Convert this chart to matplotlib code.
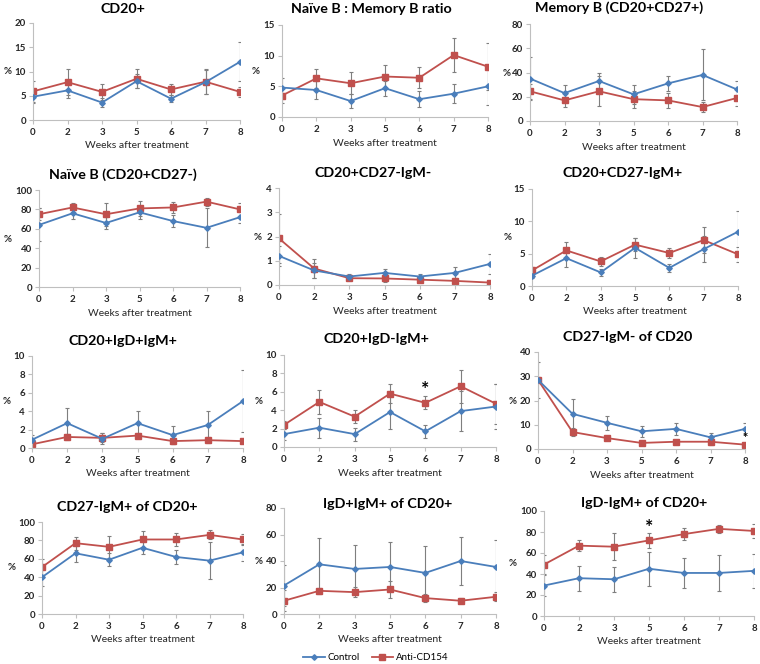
import matplotlib
matplotlib.use("Agg")
import matplotlib.pyplot as plt
from matplotlib.lines import Line2D

plt.rcParams['font.family'] = ['Lato', 'DejaVu Sans']

weeks = ["0", "2", "3", "5", "6", "7", "8"]

# Panel data: control mean/err, anti-CD154 mean/err
cd20_ctrl = [4.8, 6.1, 3.6, 8.0, 4.4, 7.8, 12.0]
cd20_ctrl_err = [1.2, 1.5, 1.0, 1.5, 0.7, 2.5, 4.0]
cd20_anti = [5.9, 7.8, 5.8, 8.5, 6.3, 7.9, 5.8]
cd20_anti_err = [2.2, 2.7, 1.6, 2.0, 1.1, 2.6, 1.1]

ratio_ctrl = [4.8, 4.4, 2.6, 4.7, 2.9, 3.8, 5.0]
ratio_ctrl_err = [1.5, 1.4, 1.1, 1.2, 1.3, 1.5, 3.0]
ratio_anti = [3.5, 6.3, 5.5, 6.6, 6.4, 10.1, 8.2]
ratio_anti_err = [1.2, 1.5, 1.8, 1.9, 1.7, 2.7, 3.8]

mem_ctrl = [35, 23, 33, 22, 31, 38, 26]
mem_ctrl_err = [18, 7, 7, 8, 6.5, 21, 7]
mem_anti = [24.5, 17, 24.5, 18, 17, 11.5, 19]
mem_anti_err = [6, 5.5, 12.5, 7, 6, 4, 7]

naive_ctrl = [64, 76, 66, 77, 68, 61, 72]
naive_ctrl_err = [17, 6, 6, 7, 6, 20, 6]
naive_anti = [75, 82, 75, 81, 82, 88, 80]
naive_anti_err = [6, 5, 12, 8, 6, 4, 7]

igmneg_ctrl = [1.2, 0.6, 0.35, 0.5, 0.35, 0.5, 0.87]
igmneg_ctrl_err = [0.4, 0.3, 0.1, 0.15, 0.1, 0.25, 0.4]
igmneg_anti = [1.92, 0.68, 0.28, 0.27, 0.22, 0.17, 0.1]
igmneg_anti_err = [1.0, 0.4, 0.08, 0.15, 0.1, 0.1, 0.05]

igmpos_ctrl = [1.6, 4.3, 2.1, 5.9, 2.8, 5.7, 8.4]
igmpos_ctrl_err = [0.4, 1.3, 0.5, 1.5, 0.6, 2.0, 3.2]
igmpos_anti = [2.4, 5.5, 3.8, 6.4, 5.1, 7.1, 4.9]
igmpos_anti_err = [0.5, 1.3, 0.7, 1.0, 0.8, 2.0, 1.2]

igdpos_ctrl = [0.9, 2.7, 1.0, 2.7, 1.4, 2.5, 5.1]
igdpos_ctrl_err = [0.5, 1.7, 0.6, 1.3, 1.0, 1.5, 3.4]
igdpos_anti = [0.4, 1.2, 1.1, 1.35, 0.75, 0.85, 0.75]
igdpos_anti_err = [0.2, 0.3, 0.5, 0.3, 0.3, 0.3, 0.1]

igdneg_ctrl = [1.4, 2.1, 1.4, 3.8, 1.7, 3.9, 4.4]
igdneg_ctrl_err = [0.6, 1.1, 0.7, 1.8, 0.7, 2.2, 2.4]
igdneg_anti = [2.4, 4.9, 3.3, 5.8, 4.8, 6.6, 4.7]
igdneg_anti_err = [0.4, 1.3, 0.7, 1.0, 0.7, 1.8, 2.2]

dn_ctrl = [28.5, 14.5, 10.8, 7.3, 8.3, 4.8, 8.3]
dn_ctrl_err = [7.5, 6.3, 3.0, 2.2, 2.5, 2.0, 2.3]
dn_anti = [28.5, 7.0, 4.5, 2.5, 3.0, 3.0, 1.8]
dn_anti_err = [1.0, 1.5, 0.5, 0.5, 0.8, 1.2, 0.5]

cd27igm_ctrl = [40, 66, 59, 72, 62, 58, 67]
cd27igm_ctrl_err = [10, 9, 7, 7, 8, 20, 9]
cd27igm_anti = [51, 77, 73, 81, 81, 86, 81]
cd27igm_anti_err = [9, 7, 12, 9, 7, 5, 6]

igdigm_ctrl = [21.5, 37.5, 34, 35.5, 31, 40, 35.5]
igdigm_ctrl_err = [15.5, 19.5, 18, 18.5, 20, 18, 20.5]
igdigm_anti = [10, 17.5, 16.5, 18.5, 12, 10, 13]
igdigm_anti_err = [8, 2.5, 4, 6.5, 3, 2, 3.5]

igdnigm_ctrl = [29, 36, 35, 45, 41, 41, 43]
igdnigm_ctrl_err = [10, 12, 12, 16, 14, 17, 16]
igdnigm_anti = [49, 67, 66, 72, 78, 83, 81]
igdnigm_anti_err = [9, 5, 13, 7, 6, 4, 7]

titles = ["CD20+", "Naïve B : Memory B ratio", "Memory B (CD20+CD27+)",
          "Naïve B (CD20+CD27-)", "CD20+CD27-IgM-", "CD20+CD27-IgM+",
          "CD20+IgD+IgM+", "CD20+IgD-IgM+", "CD27-IgM- of CD20",
          "CD27-IgM+ of CD20+", "IgD+IgM+ of CD20+", "IgD-IgM+ of CD20+"]
ymax = [20, 15, 80, 100, 4, 15, 10, 10, 40, 100, 80, 100]
ystep = [5, 5, 20, 20, 1, 5, 2, 2, 10, 20, 20, 20]

series = [
    (cd20_ctrl, cd20_ctrl_err, cd20_anti, cd20_anti_err),
    (ratio_ctrl, ratio_ctrl_err, ratio_anti, ratio_anti_err),
    (mem_ctrl, mem_ctrl_err, mem_anti, mem_anti_err),
    (naive_ctrl, naive_ctrl_err, naive_anti, naive_anti_err),
    (igmneg_ctrl, igmneg_ctrl_err, igmneg_anti, igmneg_anti_err),
    (igmpos_ctrl, igmpos_ctrl_err, igmpos_anti, igmpos_anti_err),
    (igdpos_ctrl, igdpos_ctrl_err, igdpos_anti, igdpos_anti_err),
    (igdneg_ctrl, igdneg_ctrl_err, igdneg_anti, igdneg_anti_err),
    (dn_ctrl, dn_ctrl_err, dn_anti, dn_anti_err),
    (cd27igm_ctrl, cd27igm_ctrl_err, cd27igm_anti, cd27igm_anti_err),
    (igdigm_ctrl, igdigm_ctrl_err, igdigm_anti, igdigm_anti_err),
    (igdnigm_ctrl, igdnigm_ctrl_err, igdnigm_anti, igdnigm_anti_err),
]

# significance markers: (panel index, week index, y value, size)
stars = [(7, 4, 6.3, 14), (8, 6, 4.6, 9), (11, 3, 84, 14)]

W, H = 760, 664
# axes boxes in pixels: left, right, top, bottom
boxes = [(33, 240, 23, 120), (282, 488, 25, 117), (530, 737, 24, 121),
         (39, 240, 190, 287), (279, 490, 188, 285), (532, 738, 189, 286),
         (32, 243, 356, 448), (284, 496, 355, 447), (538, 745, 352, 449),
         (42, 243, 522, 614), (284, 496, 508, 614), (544, 754, 511, 616)]
title_pos = [(123, 9), (371, 9), (619, 8), (123, 175), (373, 173), (623, 173),
             (123, 341), (376, 339), (628, 337), (127, 507), (388, 504), (644, 503)]
ylab_pos = [(8, 72), (256, 72), (507, 73), (8, 239), (258, 237), (508, 238),
            (7, 402), (259, 402), (513, 401), (12, 568), (259, 561), (513, 563)]

BLUE = '#4A7EBB'
RED = '#C0504D'
GRAY = '#7F7F7F'
SPINE = '#BFBFBF'
TXT = '#262626'

fig = plt.figure(figsize=(W / 100, H / 100), dpi=100)
x = list(range(len(weeks)))

for i in range(12):
    l, r, t, b = boxes[i]
    ax = fig.add_axes([l / W, 1 - b / H, (r - l) / W, (b - t) / H])
    c, ce, a, ae = series[i]
    ax.errorbar(x, c, yerr=ce, fmt='none', ecolor=GRAY, elinewidth=0.8,
                capsize=1.5, capthick=0.8, zorder=1)
    ax.errorbar(x, a, yerr=ae, fmt='none', ecolor=GRAY, elinewidth=0.8,
                capsize=1.5, capthick=0.8, zorder=1)
    ax.plot(x, c, color=BLUE, lw=1.3, marker='D', ms=2.8, zorder=3)
    ax.plot(x, a, color=RED, lw=1.3, marker='s', ms=4.5, zorder=2)
    ax.set_xlim(0, 6)
    ax.set_ylim(0, ymax[i])
    ax.set_yticks([k * ystep[i] for k in range(int(round(ymax[i] / ystep[i])) + 1)])
    ax.set_xticks(x)
    ax.set_xticklabels(weeks)
    for s in ['top', 'right']:
        ax.spines[s].set_visible(False)
    for s in ['left', 'bottom']:
        ax.spines[s].set_color(SPINE)
        ax.spines[s].set_linewidth(0.8)
    ax.tick_params(axis='both', colors=SPINE, labelcolor=TXT, labelsize=7,
                   length=3, width=0.8)
    ax.tick_params(axis='x', pad=3)
    ax.tick_params(axis='y', pad=2)
    for lab in ax.get_xticklabels() + ax.get_yticklabels():
        lab.set_fontweight('bold')
    ax.set_xlabel("Weeks after treatment", fontsize=7.5, color=TXT, labelpad=3)
    ax.patch.set_alpha(0)
    tx, ty = title_pos[i]
    fig.text(tx / W, 1 - ty / H, titles[i], ha='center', va='center',
             fontsize=10.3, color='black', fontweight='bold')
    yx, yy = ylab_pos[i]
    fig.text(yx / W, 1 - yy / H, "%", ha='center', va='center',
             fontsize=7, color=TXT, fontweight='bold')
    for p, wi, yv, sz in stars:
        if p == i:
            ax.text(wi, yv, "*", ha='center', va='center', fontsize=sz,
                    color='black', fontweight='bold')

handles = [Line2D([], [], color=BLUE, lw=1.3, marker='D', ms=2.8),
           Line2D([], [], color=RED, lw=1.3, marker='s', ms=4.5)]
fig.legend(handles, ["Control", "Anti-CD154"], loc='center',
           bbox_to_anchor=(376 / W, 1 - 658 / H), ncol=2, frameon=False,
           fontsize=7, handlelength=2.2, columnspacing=1.2, handletextpad=0.3)

fig.savefig("out.png", dpi=100)
